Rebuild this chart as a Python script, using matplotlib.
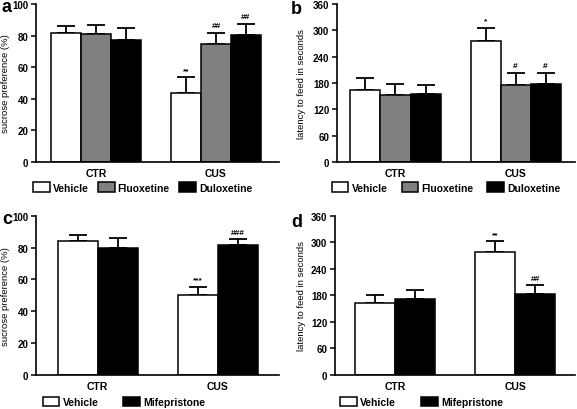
import numpy as np
import matplotlib.pyplot as plt
from matplotlib.patches import Patch

plt.rcParams['font.family'] = ['Liberation Sans', 'DejaVu Sans']
plt.rcParams['font.weight'] = 'bold'

# -- data --
groups = ['CTR', 'CUS']

# panel a: sucrose preference, antidepressants
a_treat = ['Vehicle', 'Fluoxetine', 'Duloxetine']
a_mean = [[81.5, 81.0, 77.5], [43.5, 74.5, 80.5]]
a_err = [[4.8, 6.0, 7.5], [10.0, 7.2, 7.0]]
a_sig = [['', '', ''], ['**', '##', '##']]

# panel b: latency to feed, antidepressants
b_mean = [[165, 152, 154], [275, 176, 177]]
b_err = [[26, 25, 21], [30, 27, 26]]
b_sig = [['', '', ''], ['*', '#', '#']]

# panel c: sucrose preference, mifepristone
c_treat = ['Vehicle', 'Mifepristone']
c_mean = [[84.1, 79.9], [50.4, 81.8]]
c_err = [[3.8, 5.9], [4.8, 3.3]]
c_sig = [['', ''], ['***', '###']]

# panel d: latency to feed, mifepristone
d_mean = [[163, 171], [279, 182]]
d_err = [[17, 21], [23, 21]]
d_sig = [['', ''], ['**', '##']]

colors3 = ['white', '#808080', 'black']
colors2 = ['white', 'black']

W, H = 577, 410


def draw_panel(rect, letter, letter_xy, means, errs, sigs, colors, labels,
               ylabel, yticks, xmax, xoff, legend_anchor, colspace, label_x):
    ax = fig.add_axes(rect)
    n = len(means[0])
    gap = n + 1
    for g in range(len(groups)):
        x = np.arange(n) + 1 + g * gap + xoff
        ax.errorbar(x, means[g], yerr=[np.zeros(n), errs[g]], fmt='none',
                    ecolor='black', elinewidth=1.3, capsize=6.5,
                    capthick=1.3, zorder=1)
        ax.bar(x, means[g], width=1.0, color=colors, edgecolor='black',
               linewidth=1.1, zorder=2)
        for xi, m, e, s in zip(x, means[g], errs[g], sigs[g]):
            if s:
                ax.annotate(s, (xi, m + e), xytext=(0, 2.5),
                            textcoords='offset points', ha='center',
                            va='bottom', fontsize=6)
    ax.set_xlim(0, xmax)
    ax.set_ylim(yticks[0], yticks[-1])
    ax.set_yticks(yticks)
    ax.set_xticks([(n + 1) / 2 + g * gap + xoff for g in range(len(groups))])
    ax.set_xticklabels(groups, fontsize=7.5)
    ax.tick_params(axis='x', length=0, pad=4)
    ax.tick_params(axis='y', length=3.5, width=1.1, labelsize=7, pad=2)
    for s in ['top', 'right']:
        ax.spines[s].set_visible(False)
    for s in ['left', 'bottom']:
        ax.spines[s].set_linewidth(1.2)
    ax.set_ylabel(ylabel, fontsize=6.8)
    # label centre in pixels from the figure's left edge
    ax.yaxis.set_label_coords((label_x - rect[0] * W) / (rect[2] * W), 0.5)
    ax.yaxis.label.set_va('center')
    handles = [Patch(facecolor=c, edgecolor='black', linewidth=1.1)
               for c in colors]
    fig.legend(handles, labels, loc='upper left',
               bbox_to_anchor=legend_anchor, ncol=len(labels), frameon=False,
               fontsize=7.5, handlelength=1.6, handleheight=1.05,
               handletextpad=0.3, columnspacing=colspace, borderpad=0,
               borderaxespad=0)
    fig.text(letter_xy[0] / W, 1 - letter_xy[1] / H, letter,
             fontsize=13, fontweight='bold', ha='left', va='baseline')
    return ax


fig = plt.figure(figsize=(W / 100, H / 100), dpi=100)

draw_panel([0.0624, 0.6024, 0.4211, 0.3854], 'a', (2, 12), a_mean, a_err,
           a_sig, colors3, a_treat, 'sucrose preference (%)',
           [0, 20, 40, 60, 80, 100], 8.1, 0, (0.057, 0.553), 0.9, 6)
draw_panel([0.584, 0.6024, 0.4125, 0.3854], 'b', (291, 14), b_mean, b_err,
           b_sig, colors3, a_treat, 'latency to feed in seconds',
           [0, 60, 120, 180, 240, 300, 360], 7.93, -0.05, (0.575, 0.553),
           1.35, 302)
draw_panel([0.0624, 0.0829, 0.4211, 0.3886], 'c', (2, 224), c_mean, c_err,
           c_sig, colors2, c_treat, 'sucrose preference (%)',
           [0, 20, 40, 60, 80, 100], 6.075, 0.04, (0.074, 0.03), 2.4, 6)
draw_panel([0.5806, 0.0829, 0.416, 0.3886], 'd', (291, 227), d_mean, d_err,
           d_sig, colors2, c_treat, 'latency to feed in seconds',
           [0, 60, 120, 180, 240, 300, 360], 6.0, 0.0, (0.590, 0.03), 2.4,
           301)

fig.savefig('out.png', dpi=100)
